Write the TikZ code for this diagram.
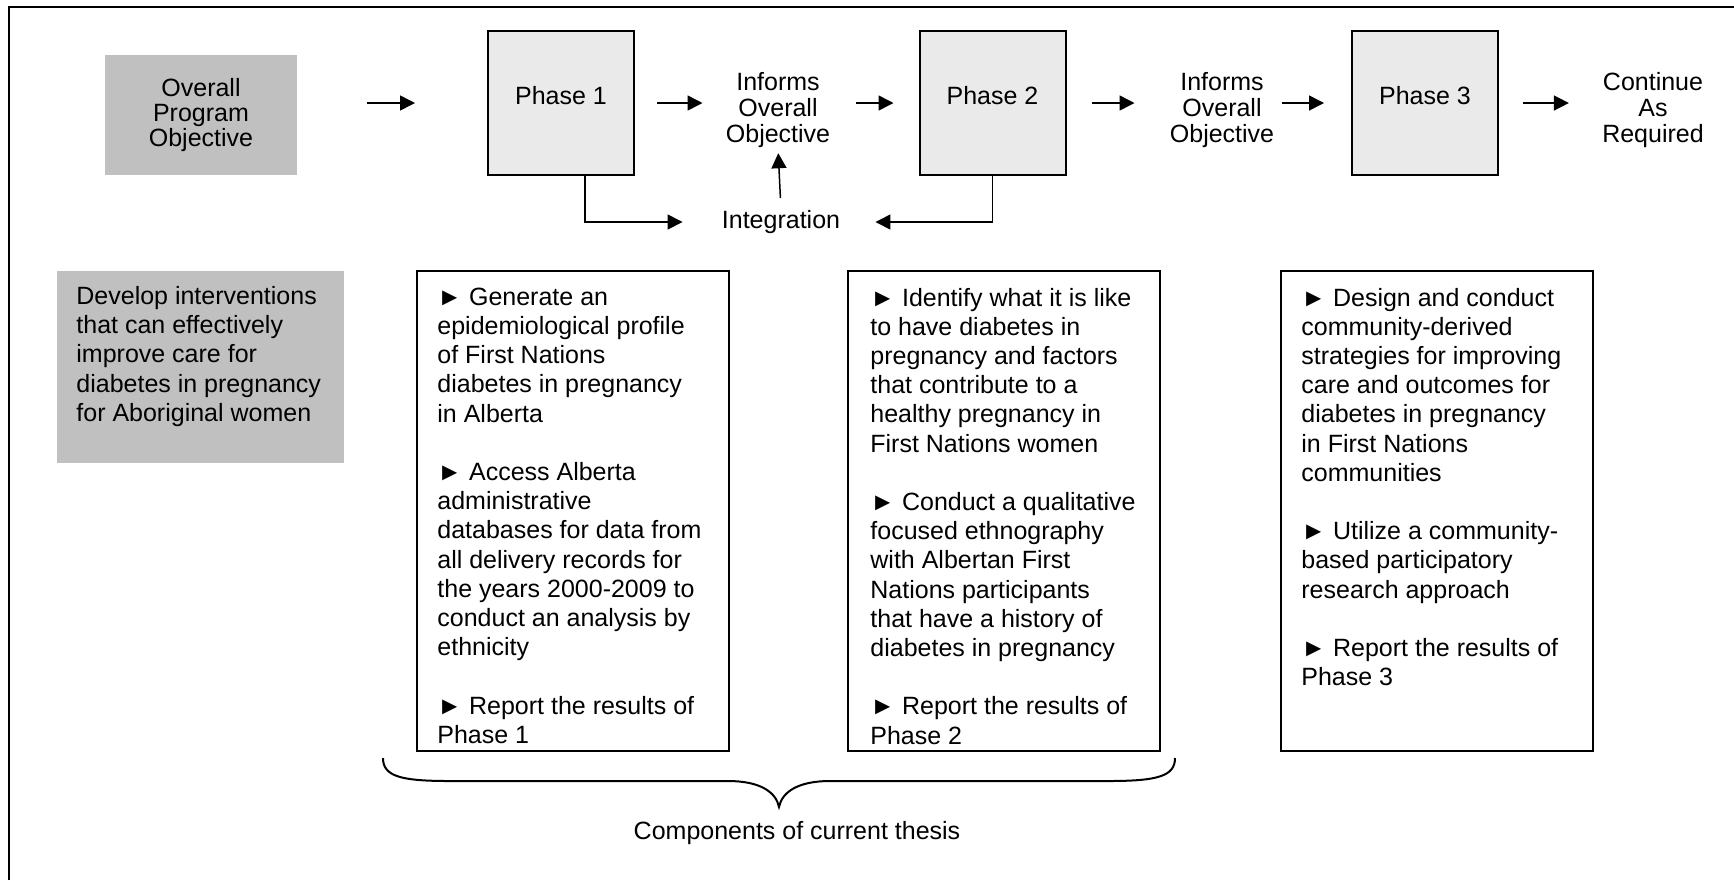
\documentclass[tikz,border=0pt]{standalone}
\usepackage{fontspec}
\setmainfont{Liberation Sans}
\usetikzlibrary{arrows.meta}
\definecolor{objgrey}{HTML}{C0C0C0}
\definecolor{phasegrey}{HTML}{EAEAEA}
\tikzset{
  lbl/.style={align=center, inner sep=0pt, font=\fontsize{12.5pt}{13.1pt}\selectfont},
  phasebox/.style={draw, line width=1pt, fill=phasegrey, minimum width=73pt, minimum height=72pt,
    inner sep=0pt, text height=9pt, text depth=8pt, font=\fontsize{12.5pt}{13.1pt}\selectfont},
  objbox/.style={fill=objgrey, inner sep=0pt},
  textbox/.style={draw, line width=1pt, minimum width=156pt, minimum height=240pt, inner sep=0pt},
  body/.style={align=left, anchor=north west, inner sep=0pt, font=\fontsize{12.5pt}{14.6pt}\selectfont},
  arr/.style={line width=0.75pt, -{Triangle[length=7.5pt,width=7.5pt]}},
}
\begin{document}
\begin{tikzpicture}[x=0.5pt,y=-0.5pt]
\useasboundingbox (0,0) rectangle (1734,880);
% outer frame (top and left only visible)
\draw[line width=1.25pt] (9,880) -- (9,7) -- (1734,7);

% top row
\node[objbox, minimum width=96pt, minimum height=60pt, align=center,
      font=\fontsize{12.5pt}{12.6pt}\selectfont] (obj) at (201,115) {Overall\\Program\\Objective};
\node[phasebox] (p1) at (561,103) {Phase 1};
\node[lbl] (inf1) at (778,110) {Informs\\Overall\\Objective};
\node[phasebox] (p2) at (992.5,103) {Phase 2};
\node[lbl] (inf2) at (1222,110) {Informs\\Overall\\Objective};
\node[phasebox] (p3) at (1425,103) {Phase 3};
\node[lbl] (cont) at (1653,110) {Continue\\As\\Required};
\node[lbl] (integ) at (781,222) {Integration};

% horizontal arrows
\draw[arr, shorten <=35pt, shorten >=36pt] (obj.east |- p1.west) -- (p1.west);
\draw[arr, shorten <=11pt, shorten >=11.5pt] (p1.east) -- (p1.east -| inf1.west);
\draw[arr, shorten <=12.5pt, shorten >=12.5pt] (inf1.east |- p2.west) -- (p2.west);
\draw[arr, shorten <=12.5pt, shorten >=17.5pt] (p2.east) -- (p2.east -| inf2.west);
\draw[arr, shorten <=3.5pt, shorten >=13.5pt] (inf2.east |- p3.west) -- (p3.west);
\draw[arr, shorten <=12pt, shorten >=16.5pt] (p3.east) -- (p3.east -| cont.west);

% integration connectors
\draw[arr, shorten >=19.5pt] ([xshift=12pt]p1.south) |- (integ.west);
\draw[arr, shorten >=17.5pt] (p2.south) |- (integ.east);
\draw[arr, shorten <=6pt, shorten >=2.5pt] (integ.north) -- (inf1.south);

% lower row
\node[objbox, minimum width=143.5pt, minimum height=96pt] (goal) at (200.5,367) {};
\node[body] (goalt) at (76,286) {Develop interventions\\that can effectively\\improve care for\\diabetes in pregnancy\\for Aboriginal women};

\node[textbox] (b1) at (573,511) {};
\node[body] (b1t) at (437,287.5) {► Generate an\\epidemiological profile\\of First Nations\\diabetes in pregnancy\\in Alberta\\[14.6pt]► Access Alberta\\administrative\\databases for data from\\all delivery records for\\the years 2000-2009 to\\conduct an analysis by\\ethnicity\\[14.6pt]► Report the results of\\Phase 1};

\node[textbox] (b2) at (1004,511) {};
\node[body] (b2t) at (870,287.5) {► Identify what it is like\\to have diabetes in\\pregnancy and factors\\that contribute to a\\healthy pregnancy in\\First Nations women\\[14.6pt]► Conduct a qualitative\\focused ethnography\\with Albertan First\\Nations participants\\that have a history of\\diabetes in pregnancy\\[14.6pt]► Report the results of\\Phase 2};

\node[textbox] (b3) at (1437,511) {};
\node[body] (b3t) at (1301,287.5) {► Design and conduct\\community-derived\\strategies for improving\\care and outcomes for\\diabetes in pregnancy\\in First Nations\\communities\\[14.6pt]► Utilize a community-\\based participatory\\research approach\\[14.6pt]► Report the results of\\Phase 3};

% brace
\coordinate (brL) at (383,758);
\coordinate (brT) at (779,807);
\coordinate (brR) at (1175,758);
\draw[line width=1pt] (brL) .. controls (383,776) and (400,781) .. (449,781) -- (728,781)
  .. controls (760,781) and (776,792) .. (brT)
  .. controls (782,792) and (798,781) .. (830,781) -- (1109,781)
  .. controls (1158,781) and (1175,776) .. (brR);
\node[lbl] (comp) at (797,833) {Components of current thesis};
\end{tikzpicture}
\end{document}
